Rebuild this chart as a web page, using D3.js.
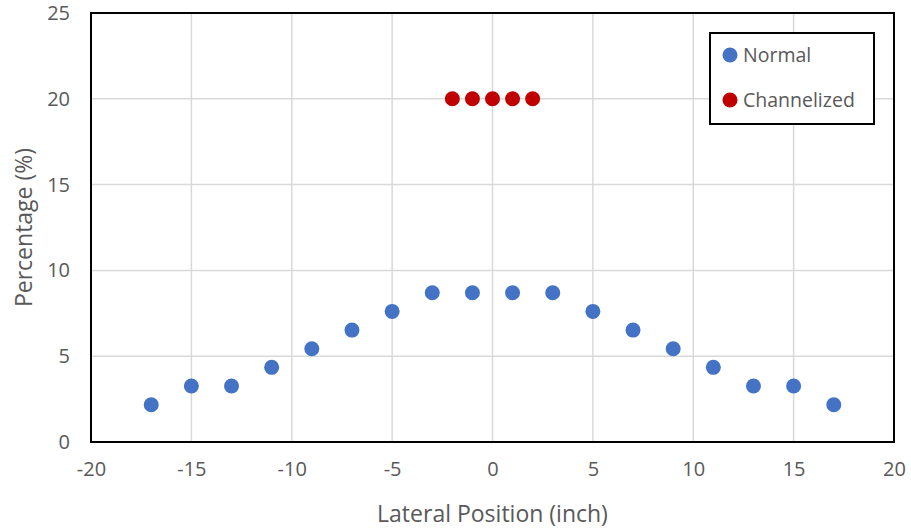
<!DOCTYPE html>
<html><head><meta charset="utf-8">
<script src="https://cdn.jsdelivr.net/npm/d3@7"></script>
<style>body{margin:0;background:#fff;} text{font-family:"Open Sans",sans-serif;fill:#595959;}</style>
</head><body>
<svg id="c" width="911" height="529"></svg>
<script>
const normalX = [-17,-15,-13,-11,-9,-7,-5,-3,-1,1,3,5,7,9,11,13,15,17];
const normalY = [2.17,3.26,3.26,4.35,5.43,6.52,7.61,8.70,8.70,8.70,8.70,7.61,6.52,5.43,4.35,3.26,3.26,2.17];
const chanX = [-2,-1,0,1,2];
const chanY = [20,20,20,20,20];
const xTicks = [-20,-15,-10,-5,0,5,10,15,20];
const yTicks = [0,5,10,15,20,25];
const seriesNames = ["Normal","Channelized"];
const colors = ["#4472C4","#C00000"];
const FF = "'Open Sans',sans-serif";

const svg = d3.select("#c");
const L=91,R=894,T=13,B=442;
const x = d3.scaleLinear().domain([-20,20]).range([L,R]);
const y = d3.scaleLinear().domain([0,25]).range([B,T]);

svg.append("g").selectAll("line").data(xTicks).join("line")
 .attr("x1",d=>x(d)).attr("x2",d=>x(d)).attr("y1",T).attr("y2",B)
 .attr("stroke","#d9d9d9").attr("stroke-width",1.5);
svg.append("g").selectAll("line").data(yTicks).join("line")
 .attr("x1",L).attr("x2",R).attr("y1",d=>y(d)).attr("y2",d=>y(d))
 .attr("stroke","#d9d9d9").attr("stroke-width",1.5);

const xa = svg.append("g").attr("transform",`translate(0,${B})`)
 .call(d3.axisBottom(x).tickValues(xTicks).tickFormat(d=>String(d)).tickSize(0).tickPadding(20));
xa.select(".domain").remove();
xa.selectAll("text").attr("font-size",20).attr("fill","#595959").style("font-family",FF);
const ya = svg.append("g").attr("transform",`translate(${L},0)`)
 .call(d3.axisLeft(y).tickValues(yTicks).tickFormat(d=>String(d)).tickSize(0).tickPadding(21));
ya.select(".domain").remove();
ya.selectAll("text").attr("font-size",20).attr("fill","#595959").style("font-family",FF);

svg.append("rect").attr("x",L).attr("y",T).attr("width",R-L).attr("height",B-T)
 .attr("fill","none").attr("stroke","#000").attr("stroke-width",2);

svg.append("g").selectAll("circle").data(normalX.map((d,i)=>[d,normalY[i]])).join("circle")
 .attr("cx",d=>x(d[0])).attr("cy",d=>y(d[1])).attr("r",7.5).attr("fill",colors[0]);
svg.append("g").selectAll("circle").data(chanX.map((d,i)=>[d,chanY[i]])).join("circle")
 .attr("cx",d=>x(d[0])).attr("cy",d=>y(d[1])).attr("r",7.5).attr("fill",colors[1]);

svg.append("text").attr("x",(L+R)/2).attr("y",522).attr("text-anchor","middle").attr("font-size",23).text("Lateral Position (inch)");
svg.append("text").attr("transform",`translate(24,${(T+B)/2}) rotate(-90)`).attr("dy","0.35em").attr("text-anchor","middle").attr("font-size",23).text("Percentage (%)");

const lg = svg.append("g");
lg.append("rect").attr("x",710).attr("y",33).attr("width",164).attr("height",91).attr("fill","#fff").attr("stroke","#000").attr("stroke-width",2);
seriesNames.forEach((n,i)=>{
  lg.append("circle").attr("cx",730).attr("cy",55+i*45).attr("r",7.5).attr("fill",colors[i]);
  lg.append("text").attr("x",743).attr("y",62+i*45).attr("font-size",19.5).text(n);
});
</script>
</body></html>
